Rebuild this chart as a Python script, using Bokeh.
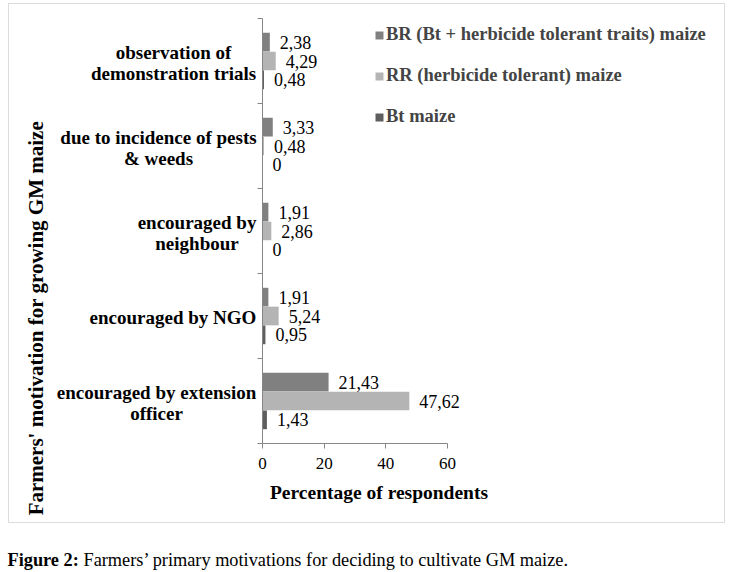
import math
from bokeh.plotting import figure
from bokeh.models import (Range1d, LinearAxis, FixedTicker, ColumnDataSource, LabelSet,
                          Legend, LegendItem, BoxAnnotation)
from bokeh.transform import dodge
from bokeh.core.properties import value
from bokeh.embed import file_html
from bokeh.resources import INLINE

# ---------------- data (bottom to top, as in the chart) ----------------
categories = [
    "encouraged by extension\nofficer",
    "encouraged by NGO",
    "encouraged by\nneighbour",
    "due to incidence of pests\n& weeds",
    "observation of\ndemonstration trials",
]
series_names = [
    "BR (Bt + herbicide tolerant traits) maize",
    "RR (herbicide tolerant) maize",
    "Bt maize",
]
br_values = [21.43, 1.91, 1.91, 3.33, 2.38]
rr_values = [47.62, 5.24, 2.86, 0.48, 4.29]
bt_values = [1.43, 0.95, 0.0, 0.0, 0.48]
x_ticks = [0, 20, 40, 60]
x_title = "Percentage of respondents"
y_title = "Farmers'  motivation for growing GM maize"
caption_bold = "Figure 2:"
caption_text = "Farmers’ primary motivations for deciding to cultivate GM maize."

# ---------------- styles / layout (pixel layout of the page) ----------------
FONT = "Liberation Serif"
colors = ["#808080", "#b4b4b4", "#5e5e5e"]
offsets = [0.222, 0.0, -0.222]
bar_h = 0.22
n = len(categories)
W, H = 728, 570
X0, PX = 262.0, (447 - 262) / 60.0      # page px of x=0, px per unit
YT, PY = 18.0, 85.0                      # page px of top category edge, px per category
label_centers = [-106, -89.5, -65.5, -104, -89]
line_gap = 21.0


def xd(px):
    return (px - X0) / PX


def yd(py):
    return (n - 0.5) - (py - YT) / PY


def fmt(v):
    return "0" if v == 0 else ("%.2f" % v).replace(".", ",")


p = figure(width=W, height=H,
           x_range=Range1d(xd(0), xd(W)), y_range=Range1d(yd(H), yd(0)),
           output_backend="svg", toolbar_location=None,
           x_axis_type=None, y_axis_type=None,
           min_border_left=0, min_border_right=0, min_border_top=0, min_border_bottom=0)
p.outline_line_color = None
p.xgrid.visible = False
p.ygrid.visible = False
p.background_fill_color = "white"
p.border_fill_color = "white"

# outer frame of the figure
p.add_layout(BoxAnnotation(left=xd(8), right=xd(724), top=yd(3), bottom=yd(522),
                           fill_alpha=0, line_color="#8a8a8a", line_width=1))

axis_color = "#868686"
xaxis = LinearAxis(ticker=FixedTicker(ticks=x_ticks), bounds=(0, 60),
                   fixed_location=-0.5)
xaxis.axis_line_color = axis_color
xaxis.major_tick_line_color = axis_color
xaxis.major_tick_out = 5
xaxis.major_tick_in = 0
xaxis.minor_tick_line_color = None
xaxis.major_label_text_font = FONT
xaxis.major_label_text_font_size = "17px"
xaxis.major_label_text_color = "black"
xaxis.major_label_standoff = 9
p.add_layout(xaxis, "below")

bounds = [i - 0.5 for i in range(n + 1)]
yaxis = LinearAxis(ticker=FixedTicker(ticks=bounds), bounds=(-0.5, n - 0.5),
                   fixed_location=0,
                   major_label_overrides={b: "" for b in bounds})
yaxis.axis_line_color = axis_color
yaxis.major_tick_line_color = axis_color
yaxis.major_tick_out = 5
yaxis.major_tick_in = 0
yaxis.major_label_standoff = 0
yaxis.minor_tick_line_color = None
p.add_layout(yaxis, "left")

idx = list(range(n))
all_values = [br_values, rr_values, bt_values]
items = []
for name, vals, col, off in zip(series_names, all_values, colors, offsets):
    src = ColumnDataSource(dict(y=idx, val=vals, lab=[fmt(v) for v in vals]))
    r = p.hbar(y=dodge("y", off), right="val", left=0, height=bar_h, source=src,
               fill_color=col, line_color=None)
    items.append(LegendItem(label=name, renderers=[r]))
    p.add_layout(LabelSet(x="val", y=dodge("y", off), text="lab", source=src,
                          x_offset=10, text_baseline="middle", text_align="left",
                          text_font=value(FONT), text_font_size=value("18px"),
                          text_color="black"))

legend = Legend(items=items, location=(374, H - 127))
legend.label_text_font = FONT
legend.label_text_font_size = "18.5px"
legend.label_text_font_style = "bold"
legend.glyph_width = 10
legend.glyph_height = 10
legend.label_height = 20
legend.spacing = 20
legend.padding = 0
legend.margin = 0
legend.label_standoff = 2
legend.border_line_color = None
legend.background_fill_alpha = 0
p.add_layout(legend)

# category labels: each line centred on the label block's centre
ly, lt, ldx, ldy = [], [], [], []
for i, (cat, cx) in enumerate(zip(categories, label_centers)):
    lines = cat.split("\n")
    k = len(lines)
    for j, line in enumerate(lines):
        ly.append(i)
        lt.append(line)
        ldx.append(cx)
        ldy.append(((k - 1) / 2.0 - j) * line_gap - 1.5)
cat_src = ColumnDataSource(dict(x=[0] * len(lt), y=ly, t=lt, dx=ldx, dy=ldy))
p.add_layout(LabelSet(x="x", y="y", text="t", x_offset="dx", y_offset="dy",
                      source=cat_src, text_align="center", text_baseline="middle",
                      text_font=value(FONT), text_font_size=value("19px"),
                      text_font_style="bold", text_color="black"))

# axis titles
p.text(x=[xd(378.5)], y=[yd(492)], text=[x_title], text_align="center",
       text_baseline="middle", text_font=value(FONT), text_font_size="19.5px",
       text_font_style="bold", text_color="black")
p.text(x=[xd(35)], y=[yd(315)], text=[y_title], angle=math.pi / 2,
       text_align="center", text_baseline="middle", text_font=value(FONT),
       text_font_size="21px", text_font_style="bold", text_color="black")

# caption
p.text(x=[xd(7)], y=[yd(559)], text=[caption_bold], text_align="left",
       text_baseline="alphabetic", text_font=value(FONT), text_font_size="18.3px",
       text_font_style="bold", text_color="black")
p.text(x=[xd(83)], y=[yd(559)], text=[caption_text], text_align="left",
       text_baseline="alphabetic", text_font=value(FONT), text_font_size="18.3px",
       text_color="black")

open("out.html", "w").write(file_html(p, INLINE))
